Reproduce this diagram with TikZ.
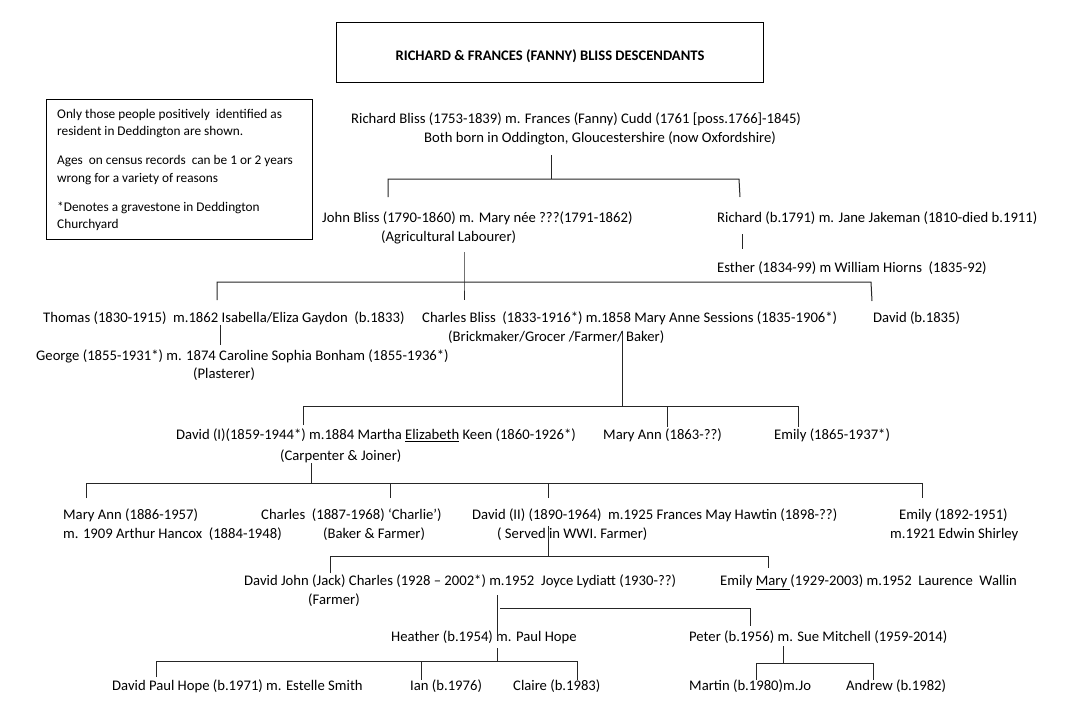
\documentclass[tikz,border=0pt]{standalone}
\usepackage{fontspec}
\setmainfont{Carlito}
\begin{document}
\begin{tikzpicture}[x=1pt,y=-1pt]
\tikzset{
  lbl/.style={anchor=west, inner sep=0pt, font=\fontsize{14.67}{17.6}\selectfont, text height=13pt, text depth=1.5pt},
  ln/.style={line width=1pt, draw=black!85},
  boxst/.style={draw=black, line width=1pt, inner sep=0pt},
}
\useasboundingbox[fill=white] (0,0) rectangle (1084,717);

% title
\node[boxst, anchor=north west, minimum width=427pt, minimum height=60pt] (titlebox) at (336,22) {};
\node[font=\bfseries\fontsize{14.6}{17}\selectfont, inner sep=0pt] (title) at (550,56) {RICHARD \& FRANCES (FANNY) BLISS DESCENDANTS};

% legend
\node[boxst, anchor=north west, minimum width=266pt, minimum height=140pt] (legendbox) at (46,99) {};
\node[anchor=north west, inner sep=0pt, align=left, font=\fontsize{13.3}{17.5}\selectfont] (legend) at (57,109)
 {Only those people positively~ identified as\\resident in Deddington are shown.\\[11.5pt]
  Ages~ on census records~ can be 1 or 2 years\\wrong for a variety of reasons\\[11.5pt]
  *Denotes a gravestone in Deddington\\Churchyard};

% people
\node[lbl] (rb1) at (351,118) {Richard Bliss (1753-1839) m. Frances (Fanny) Cudd (1761 [poss.1766]-1845)};
\node[lbl] (rb2) at (424,137) {Both born in Oddington, Gloucestershire (now Oxfordshire)};
\node[lbl] (jb1) at (322,217) {John Bliss (1790-1860) m. Mary née ???(1791-1862)};
\node[lbl] (jb2) at (381,236) {(Agricultural Labourer)};
\node[lbl] (rj) at (717,217) {Richard (b.1791) m. Jane Jakeman (1810-died b.1911)};
\node[lbl] (es) at (717,267) {Esther (1834-99) m William Hiorns~ (1835-92)};
\node[lbl] (th) at (43,317) {Thomas (1830-1915)~ m.1862 Isabella/Eliza Gaydon~ (b.1833)};
\node[lbl] (cb1) at (422,317) {Charles Bliss~ (1833-1916*) m.1858 Mary Anne Sessions (1835-1906*)};
\node[lbl] (cb2) at (448,336) {(Brickmaker/Grocer /Farmer/ Baker)};
\node[lbl] (db) at (873,317) {David (b.1835)};
\node[lbl] (ge1) at (36,355) {George (1855-1931*) m. 1874 Caroline Sophia Bonham (1855-1936*)};
\node[lbl] (ge2) at (193,373) {(Plasterer)};
\node[lbl] (d1a) at (176,434) {David (I)(1859-1944*) m.1884 Martha \underline{Elizabeth} Keen (1860-1926*)};
\node[lbl] (d1b) at (280,455) {(Carpenter \& Joiner)};
\node[lbl] (ma) at (603,434) {Mary Ann (1863-??)};
\node[lbl] (em) at (774,434) {Emily (1865-1937*)};
\node[lbl] (ma2a) at (63,514) {Mary Ann (1886-1957)};
\node[lbl] (ma2b) at (63,533) {m. 1909 Arthur Hancox~ (1884-1948)};
\node[lbl] (ch1) at (261,514) {Charles~ (1887-1968) ‘Charlie’)};
\node[lbl] (ch2) at (323,533) {(Baker \& Farmer)};
\node[lbl] (d2a) at (472,514) {David (II) (1890-1964)~ m.1925 Frances May Hawtin (1898-??)};
\node[lbl] (d2b) at (497,533) {( Served in WWI. Farmer)};
\node[lbl] (em2a) at (899,514) {Emily (1892-1951)};
\node[lbl] (em2b) at (890,533) {m.1921 Edwin Shirley};
\node[lbl] (dj1) at (244,580) {David John (Jack) Charles (1928 – 2002*) m.1952~ Joyce Lydiatt (1930-??)};
\node[lbl] (dj2) at (308,599) {(Farmer)};
\node[lbl] (emm) at (720,580) {Emily \underline{Mary }(1929-2003) m.1952~ Laurence~ Wallin};
\node[lbl] (he) at (391,636) {Heather (b.1954) m. Paul Hope};
\node[lbl] (pe) at (689,636) {Peter (b.1956) m. Sue Mitchell (1959-2014)};
\node[lbl] (dp) at (112,685) {David Paul Hope (b.1971) m. Estelle Smith};
\node[lbl] (ian) at (410,685) {Ian (b.1976)};
\node[lbl] (cl) at (513,685) {Claire (b.1983)};
\node[lbl] (mt) at (689,685) {Martin (b.1980)m.Jo};
\node[lbl] (an) at (846,685) {Andrew (b.1982)};

% junction coordinates
\coordinate (g1a) at (551,155); \coordinate (g1b) at (551,179);
\coordinate (g1l) at (388,179); \coordinate (g1r) at (739,179);
\coordinate (g1ld) at (388,197); \coordinate (g1rd) at (740,197);
\coordinate (gRa) at (742,234); \coordinate (gRb) at (742,249);
\coordinate (g2a) at (464,252); \coordinate (g2b) at (464,282);
\coordinate (g2l) at (217,282); \coordinate (g2r) at (871,282);
\coordinate (g2ld) at (217,300); \coordinate (g2md) at (464,300); \coordinate (g2rd) at (872,301);
\coordinate (gTa) at (220,325); \coordinate (gTb) at (220,345);
\coordinate (g3a) at (622,331); \coordinate (g3b) at (622,406);
\coordinate (g3l) at (303,406); \coordinate (g3r) at (798,406);
\coordinate (g3ld) at (303,425); \coordinate (g3md) at (667,427); \coordinate (g3rd) at (798,427);
\coordinate (g4a) at (311,463); \coordinate (g4b) at (311,483);
\coordinate (g4l) at (86,483); \coordinate (g4r) at (922,483);
\coordinate (g4d1) at (86,498); \coordinate (g4d2) at (390,498); \coordinate (g4m) at (548,483); \coordinate (g4d3) at (548,498); \coordinate (g4d4) at (922,498);
\coordinate (g4c) at (390,483);
\coordinate (g5a) at (548,526); \coordinate (g5b) at (548,556);
\coordinate (g5l) at (330,556); \coordinate (g5r) at (768,556);
\coordinate (g5ld) at (330,573); \coordinate (g5rd) at (768,568);
\coordinate (g6a) at (497,595); \coordinate (g6b) at (497,640);
\coordinate (g6c) at (500,608); \coordinate (g6r) at (750,608); \coordinate (g6rd) at (750,626);
\coordinate (g7a) at (497,648); \coordinate (g7b) at (497,661);
\coordinate (g7l) at (156,661); \coordinate (g7r) at (577,661);
\coordinate (g7ld) at (156,677); \coordinate (g7m) at (421,661); \coordinate (g7md) at (421,680); \coordinate (g7rd) at (577,680);
\coordinate (g8a) at (783,646); \coordinate (g8b) at (783,663);
\coordinate (g8l) at (756,663); \coordinate (g8r) at (873,663);
\coordinate (g8ld) at (756,680); \coordinate (g8rd) at (873,680);

% connectors
\draw[ln] (g1a) -- (g1b);
\draw[ln] (g1ld) -- (g1l) -- (g1r) -- (g1rd);
\draw[ln] (gRa) -- (gRb);
\draw[ln] (g2a) -- (g2b) -- (g2md);
\draw[ln] (g2ld) -- (g2l) -- (g2r) -- (g2rd);
\draw[ln] (gTa) -- (gTb);
\draw[ln] (g3a) -- (g3b);
\draw[ln] (g3ld) -- (g3l) -- (g3r) -- (g3rd);
\draw[ln] (g3b -| g3md) -- (g3md);
\draw[ln] (g4a) -- (g4b);
\draw[ln] (g4d1) -- (g4l) -- (g4r) -- (g4d4);
\draw[ln] (g4c) -- (g4d2);
\draw[ln] (g4m) -- (g4d3);
\draw[ln] (g5a) -- (g5b);
\draw[ln] (g5ld) -- (g5l) -- (g5r) -- (g5rd);
\draw[ln] (g6a) -- (g6b);
\draw[ln] (g6c) -- (g6r) -- (g6rd);
\draw[ln] (g7a) -- (g7b);
\draw[ln] (g7ld) -- (g7l) -- (g7r) -- (g7rd);
\draw[ln] (g7m) -- (g7md);
\draw[ln] (g8a) -- (g8b);
\draw[ln] (g8ld) -- (g8l) -- (g8r) -- (g8rd);
\end{tikzpicture}
\end{document}
